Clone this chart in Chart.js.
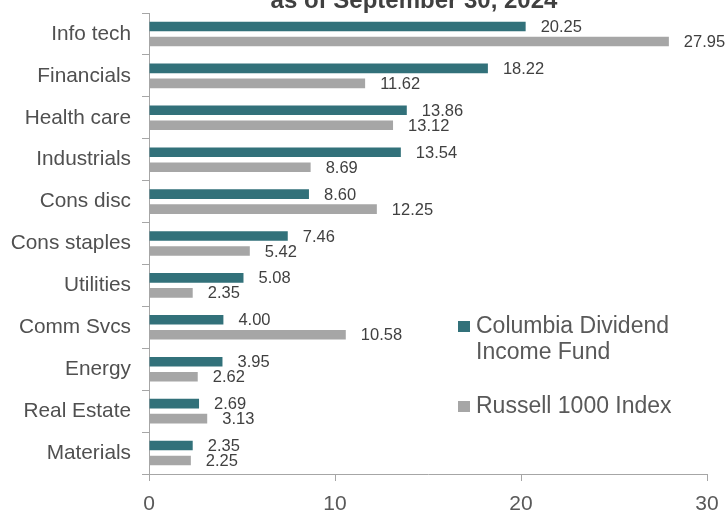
<!DOCTYPE html>
<html>
<head>
<meta charset="utf-8">
<script src="https://cdn.jsdelivr.net/npm/chart.js@4/dist/chart.umd.min.js"></script>
<style>
  html, body { margin: 0; padding: 0; background: #ffffff; }
  canvas { display: block; }
</style>
</head>
<body>
<canvas id="sectors" width="725" height="510"></canvas>
<script>
// Sector weights (%) as of September 30, 2024
const sectors = ['Info tech', 'Financials', 'Health care', 'Industrials', 'Cons disc',
  'Cons staples', 'Utilities', 'Comm Svcs', 'Energy', 'Real Estate', 'Materials'];
const fundWeights = [20.25, 18.22, 13.86, 13.54, 8.60, 7.46, 5.08, 4.00, 3.95, 2.69, 2.35];
const indexWeights = [27.95, 11.62, 13.12, 8.69, 12.25, 5.42, 2.35, 10.58, 2.62, 3.13, 2.25];
const seriesNames = [['Columbia Dividend', 'Income Fund'], ['Russell 1000 Index']];
const xTicks = [0, 10, 20, 30];
const titleText = 'as of September 30, 2024';

const TEAL = '#32717a';
const GREY = '#a6a6a6';
const FONT = '"Liberation Sans", Arial, sans-serif';

// Value labels to the right of each bar
const valueLabels = {
  id: 'valueLabels',
  afterDatasetsDraw(chart) {
    const ctx = chart.ctx;
    ctx.save();
    ctx.font = '16.5px ' + FONT;
    ctx.fillStyle = '#404040';
    ctx.textAlign = 'left';
    ctx.textBaseline = 'middle';
    chart.data.datasets.forEach((ds, i) => {
      chart.getDatasetMeta(i).data.forEach((bar, j) => {
        ctx.fillText(ds.data[j].toFixed(2), bar.x + 15, bar.y + 1);
      });
    });
    ctx.restore();
  }
};

// Title line, partly above the top edge
const topTitle = {
  id: 'topTitle',
  afterDraw(chart) {
    const ctx = chart.ctx;
    ctx.save();
    ctx.font = 'bold 24px ' + FONT;
    ctx.fillStyle = '#404040';
    ctx.textAlign = 'center';
    ctx.textBaseline = 'alphabetic';
    ctx.fillText(titleText, 414, 8);
    ctx.restore();
  }
};

// Legend drawn inside the plot area, lower right
const sideLegend = {
  id: 'sideLegend',
  afterDraw(chart) {
    const ctx = chart.ctx;
    const colors = [TEAL, GREY];
    const rows = [327, 407];
    ctx.save();
    ctx.font = '23px ' + FONT;
    ctx.textAlign = 'left';
    ctx.textBaseline = 'middle';
    seriesNames.forEach((lines, i) => {
      ctx.fillStyle = colors[i];
      ctx.fillRect(458, rows[i] - 6, 12, 11);
      ctx.fillStyle = '#595959';
      lines.forEach((line, k) => {
        ctx.fillText(line, 476, rows[i] + k * 26);
      });
    });
    ctx.restore();
  }
};

new Chart(document.getElementById('sectors'), {
  type: 'bar',
  data: {
    labels: sectors,
    datasets: [
      { label: seriesNames[0].join(' '), data: fundWeights, backgroundColor: TEAL },
      { label: seriesNames[1].join(' '), data: indexWeights, backgroundColor: GREY }
    ]
  },
  options: {
    indexAxis: 'y',
    responsive: false,
    animation: false,
    devicePixelRatio: 1,
    categoryPercentage: 0.716,
    barPercentage: 0.64,
    layout: { padding: { top: 13, right: 18, left: 0, bottom: 0 } },
    plugins: {
      legend: { display: false },
      title: { display: false },
      tooltip: { enabled: false }
    },
    scales: {
      x: {
        min: 0,
        max: 30,
        afterBuildTicks(scale) {
          scale.ticks = xTicks.map(v => ({ value: v }));
        },
        afterFit(scale) {
          scale.height = 36;
          scale.paddingLeft = 0;
          scale.paddingRight = 0;
        },
        border: { display: true, color: '#a6a6a6', width: 1 },
        grid: { display: true, drawOnChartArea: false, drawTicks: true, tickLength: 7, color: '#a6a6a6' },
        ticks: {
          font: { family: FONT, size: 21 },
          color: '#595959',
          padding: 11,
          maxRotation: 0
        }
      },
      y: {
        afterFit(scale) {
          scale.width = 149;
          scale.paddingTop = 0;
          scale.paddingBottom = 0;
        },
        border: { display: true, color: '#a6a6a6', width: 1 },
        grid: { display: true, offset: true, drawOnChartArea: false, drawTicks: true, tickLength: 7, color: '#a6a6a6' },
        ticks: {
          font: { family: FONT, size: 20.8 },
          color: '#505050',
          padding: 11
        }
      }
    }
  },
  plugins: [valueLabels, topTitle, sideLegend]
});
</script>
</body>
</html>
